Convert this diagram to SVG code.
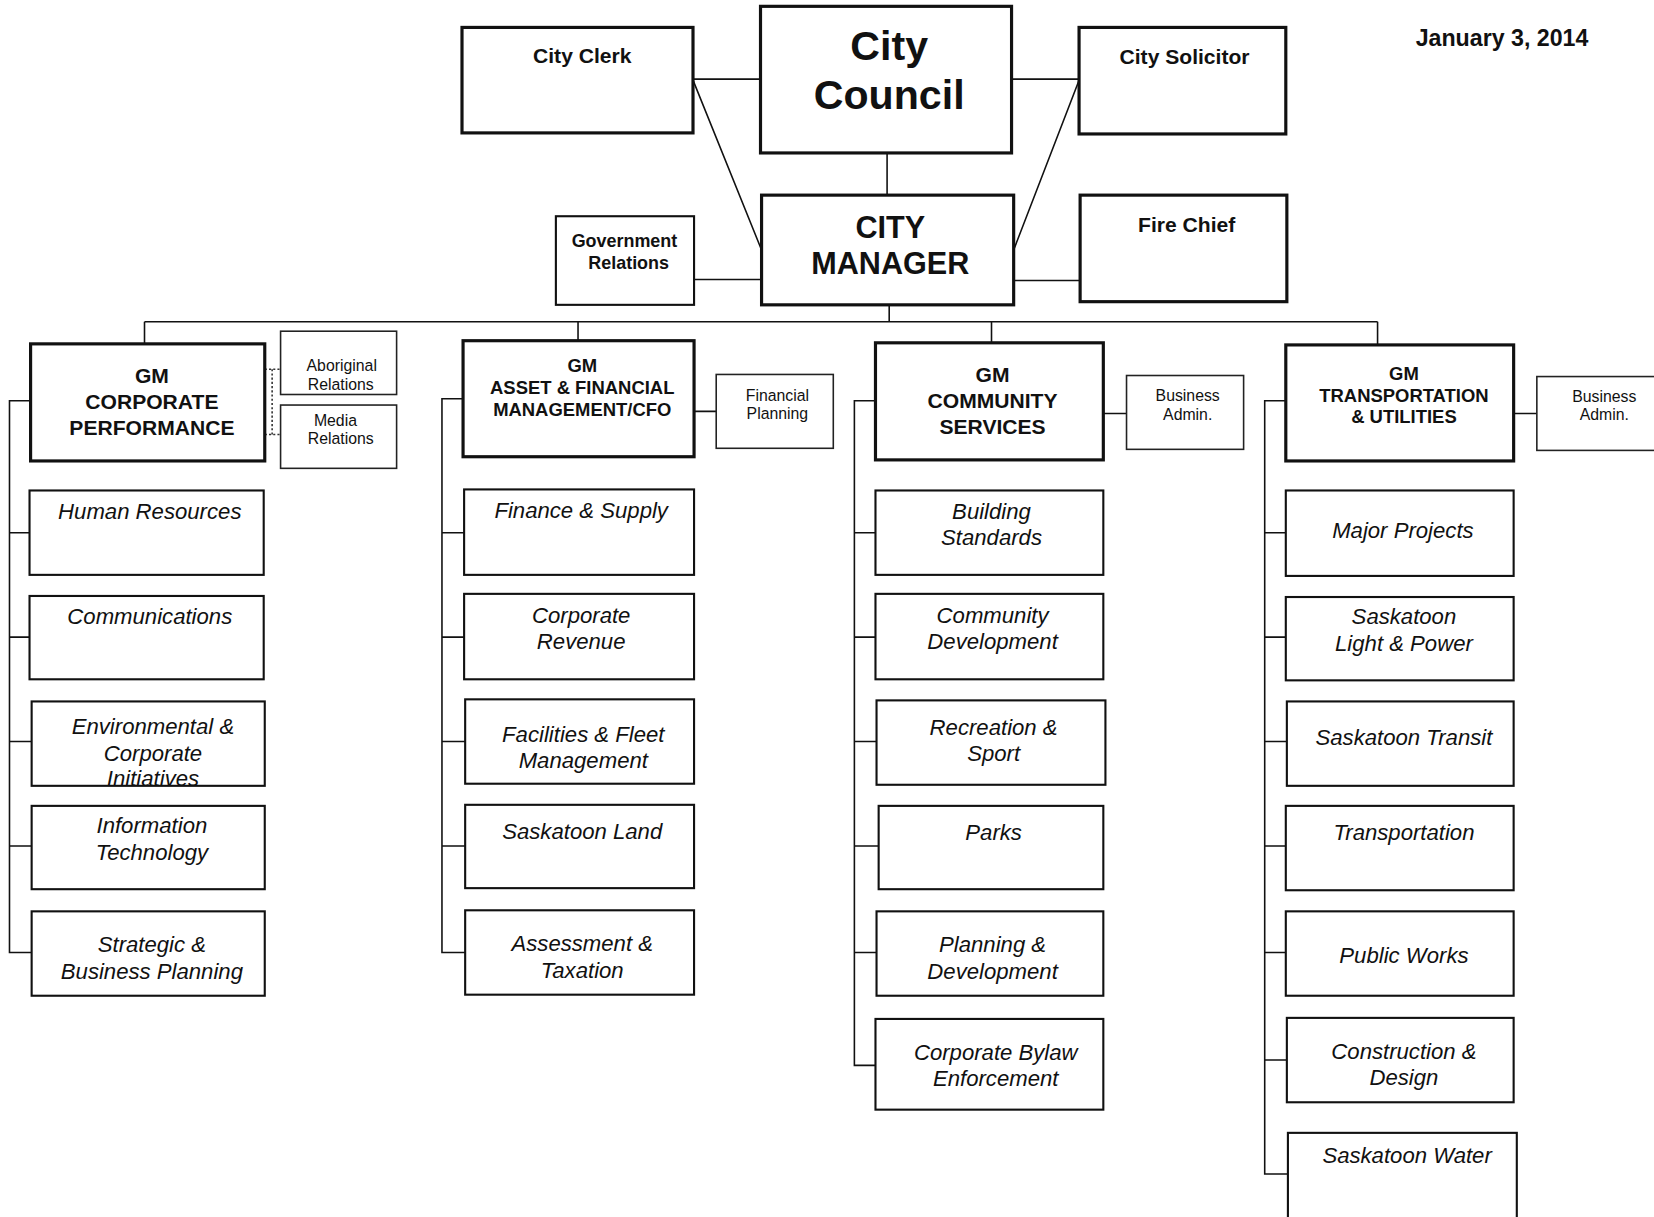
<svg xmlns="http://www.w3.org/2000/svg" width="1654" height="1217" viewBox="0 0 1654 1217">
<style>
.bg{fill:#fff}
.box{fill:#fff;stroke:#111;stroke-width:2}
.thick{fill:#fff;stroke:#111;stroke-width:3}
.thin{fill:#fff;stroke:#222;stroke-width:1.5}
.ln{fill:none;stroke:#111;stroke-width:1.5}
.dot{fill:none;stroke:#333;stroke-width:1.5;stroke-dasharray:2 2}
text{font-family:"Liberation Sans",Arial,sans-serif;fill:#111;text-anchor:middle}
.b{font-weight:bold}
.it{font-style:italic;font-size:21px}
.sm{font-size:15px}
</style>
<rect class="bg" x="0" y="0" width="1654" height="1217"/>
<g transform="scale(1.0548)">
<g id="connectors">
<path class="ln" d="M657 75H721M959 75H1023M657 76L722 237M1023 76L961 237M841 145V185M658 265H722M961 266H1024M843 289V305M137 305H1306M137 305V326M548 305V323M940 305V325M1306 305V327M658 390H679M1046 392H1068M1435 392H1457"/>
<path class="dot" d="M251 350H266M251 412H266M258 350V412"/>
<path class="ln" d="M29 380H9V903H30M9 505H28M9 604H28M9 703H30M9 802H30"/>
<path class="ln" d="M440 378H419V903H441M419 505H440M419 604H440M419 703H441M419 802H441"/>
<path class="ln" d="M830 380H810V1010H830M810 505H830M810 604H830M810 703H831M810 802H833M810 903H831"/>
<path class="ln" d="M1219 380H1199V1113H1221M1199 505H1219M1199 604H1219M1199 703H1220M1199 802H1219M1199 903H1219M1199 1005H1220"/>
</g>
<text class="b" x="1424" y="44" font-size="22">January 3, 2014</text>
<g id="city-clerk"><rect class="thick" x="438" y="26" width="219" height="100"/><text class="b" x="552" y="60" font-size="20">City Clerk</text></g>
<g id="city-council"><rect class="thick" x="721" y="6" width="238" height="139"/><text class="b" x="843" y="57" font-size="39">City</text><text class="b" x="843" y="103" font-size="39">Council</text></g>
<g id="city-solicitor"><rect class="thick" x="1023" y="26" width="196" height="101"/><text class="b" x="1123" y="61" font-size="20">City Solicitor</text></g>
<g id="city-manager"><rect class="thick" x="722" y="185" width="239" height="104"/><text class="b" x="844" y="226" font-size="29">CITY</text><text class="b" x="844" y="260" font-size="29">MANAGER</text></g>
<g id="gov-relations"><rect class="box" x="527" y="205" width="131" height="84"/><text class="b" x="592" y="234" font-size="17">Government</text><text class="b" x="596" y="255" font-size="17">Relations</text></g>
<g id="fire-chief"><rect class="thick" x="1024" y="185" width="196" height="101"/><text class="b" x="1125" y="220" font-size="20">Fire Chief</text></g>

<g id="gm-cp"><rect class="thick" x="29" y="326" width="222" height="111"/><text class="b" x="144" y="363" font-size="20">GM</text><text class="b" x="144" y="388" font-size="20">CORPORATE</text><text class="b" x="144" y="412" font-size="20">PERFORMANCE</text></g>
<g id="aboriginal"><rect class="thin" x="266" y="314" width="110" height="60"/><text class="sm" x="324" y="352">Aboriginal</text><text class="sm" x="323" y="370">Relations</text></g>
<g id="media"><rect class="thin" x="266" y="384" width="110" height="60"/><text class="sm" x="318" y="404">Media</text><text class="sm" x="323" y="421">Relations</text></g>

<g id="gm-af"><rect class="thick" x="439" y="323" width="219" height="110"/><text class="b" x="552" y="353" font-size="17.5">GM</text><text class="b" x="552" y="374" font-size="17.5">ASSET &amp; FINANCIAL</text><text class="b" x="552" y="394" font-size="17.5">MANAGEMENT/CFO</text></g>
<g id="fin-planning"><rect class="thin" x="679" y="355" width="111" height="70"/><text class="sm" x="737" y="380">Financial</text><text class="sm" x="737" y="397">Planning</text></g>

<g id="gm-cs"><rect class="thick" x="830" y="325" width="216" height="111"/><text class="b" x="941" y="362" font-size="20">GM</text><text class="b" x="941" y="387" font-size="20">COMMUNITY</text><text class="b" x="941" y="411" font-size="20">SERVICES</text></g>
<g id="cs-admin"><rect class="thin" x="1068" y="356" width="111" height="70"/><text class="sm" x="1126" y="380">Business</text><text class="sm" x="1126" y="398">Admin.</text></g>

<g id="gm-tu"><rect class="thick" x="1219" y="327" width="216" height="110"/><text class="b" x="1331" y="360" font-size="17.5">GM</text><text class="b" x="1331" y="381" font-size="17.5">TRANSPORTATION</text><text class="b" x="1331" y="401" font-size="17.5">&amp; UTILITIES</text></g>
<g id="tu-admin"><rect class="thin" x="1457" y="357" width="115" height="70"/><text class="sm" x="1521" y="381">Business</text><text class="sm" x="1521" y="398">Admin.</text></g>

<g id="hr"><rect class="box" x="28" y="465" width="222" height="80"/><text class="it" x="142" y="492">Human Resources</text></g>
<g id="comms"><rect class="box" x="28" y="565" width="222" height="79"/><text class="it" x="142" y="592">Communications</text></g>
<g id="env"><rect class="box" x="30" y="665" width="221" height="80"/><text class="it" x="145" y="696">Environmental &amp;</text><text class="it" x="145" y="721">Corporate</text><text class="it" x="145" y="745">Initiatives</text></g>
<g id="it"><rect class="box" x="30" y="764" width="221" height="79"/><text class="it" x="144" y="790">Information</text><text class="it" x="144" y="815">Technology</text></g>
<g id="strategic"><rect class="box" x="30" y="864" width="221" height="80"/><text class="it" x="144" y="903">Strategic &amp;</text><text class="it" x="144" y="928">Business Planning</text></g>

<g id="finance"><rect class="box" x="440" y="464" width="218" height="81"/><text class="it" x="551" y="491">Finance &amp; Supply</text></g>
<g id="revenue"><rect class="box" x="440" y="563" width="218" height="81"/><text class="it" x="551" y="591">Corporate</text><text class="it" x="551" y="615">Revenue</text></g>
<g id="facilities"><rect class="box" x="441" y="663" width="217" height="80"/><text class="it" x="553" y="703">Facilities &amp; Fleet</text><text class="it" x="553" y="728">Management</text></g>
<g id="land"><rect class="box" x="441" y="763" width="217" height="79"/><text class="it" x="552" y="795">Saskatoon Land</text></g>
<g id="assessment"><rect class="box" x="441" y="863" width="217" height="80"/><text class="it" x="552" y="902">Assessment &amp;</text><text class="it" x="552" y="927">Taxation</text></g>

<g id="building"><rect class="box" x="830" y="465" width="216" height="80"/><text class="it" x="940" y="492">Building</text><text class="it" x="940" y="517">Standards</text></g>
<g id="community-dev"><rect class="box" x="830" y="563" width="216" height="81"/><text class="it" x="941" y="591">Community</text><text class="it" x="941" y="615">Development</text></g>
<g id="recreation"><rect class="box" x="831" y="664" width="217" height="80"/><text class="it" x="942" y="697">Recreation &amp;</text><text class="it" x="942" y="721">Sport</text></g>
<g id="parks"><rect class="box" x="833" y="764" width="213" height="79"/><text class="it" x="942" y="796">Parks</text></g>
<g id="planning"><rect class="box" x="831" y="864" width="215" height="80"/><text class="it" x="941" y="903">Planning &amp;</text><text class="it" x="941" y="928">Development</text></g>
<g id="bylaw"><rect class="box" x="830" y="966" width="216" height="86"/><text class="it" x="944" y="1005">Corporate Bylaw</text><text class="it" x="944" y="1030">Enforcement</text></g>

<g id="major-projects"><rect class="box" x="1219" y="465" width="216" height="81"/><text class="it" x="1330" y="510">Major Projects</text></g>
<g id="slp"><rect class="box" x="1219" y="566" width="216" height="79"/><text class="it" x="1331" y="592">Saskatoon</text><text class="it" x="1331" y="617">Light &amp; Power</text></g>
<g id="transit"><rect class="box" x="1220" y="665" width="215" height="80"/><text class="it" x="1331" y="706">Saskatoon Transit</text></g>
<g id="transportation"><rect class="box" x="1219" y="764" width="216" height="80"/><text class="it" x="1331" y="796">Transportation</text></g>
<g id="public-works"><rect class="box" x="1219" y="864" width="216" height="80"/><text class="it" x="1331" y="913">Public Works</text></g>
<g id="construction"><rect class="box" x="1220" y="965" width="215" height="80"/><text class="it" x="1331" y="1004">Construction &amp;</text><text class="it" x="1331" y="1029">Design</text></g>
<g id="water"><rect class="box" x="1221" y="1074" width="217" height="86"/><text class="it" x="1334" y="1103">Saskatoon Water</text></g>
</g>
</svg>
